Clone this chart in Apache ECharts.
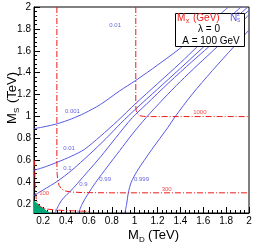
<!DOCTYPE html>
<html><head><meta charset="utf-8">
<script src="https://cdn.jsdelivr.net/npm/echarts@6/dist/echarts.min.js"></script>
<style>html,body{margin:0;padding:0;background:#fff}#c{width:258px;height:247px}</style>
</head><body><div id="c"></div>
<script>
// Axis ranges (TeV)
const xRange = [0.12, 2.0];
const yRange = [0.12, 2.0];
const majorTicks = [0.2, 0.4, 0.6, 0.8, 1.0, 1.2, 1.4, 1.6, 1.8, 2.0];
const minorTicks = [];
for (let i = 4; i <= 50; i++) minorTicks.push(+(i * 0.04).toFixed(2));

// Blue contours of N_S^2 (M_D, M_S in TeV)
const c0001 = [[0.12,0.89],[0.2,0.905],[0.325,0.935],[0.45,0.98],[0.56,1.03],[0.7,1.11],[0.87,1.235],[1.01,1.33],[1.2,1.47],[1.4,1.625],[1.6,1.8],[1.82,2.0]];
const c001 = [[0.12,0.51],[0.2,0.535],[0.325,0.584],[0.45,0.64],[0.56,0.7],[0.7,0.82],[0.85,0.96],[1.01,1.12],[1.2,1.3],[1.4,1.49],[1.545,1.635],[1.75,1.83],[1.93,2.0]];
const c01 = [[0.12,0.28],[0.2,0.33],[0.325,0.41],[0.45,0.51],[0.6,0.65],[0.75,0.8],[0.88,0.94],[1.01,1.07],[1.2,1.25],[1.4,1.44],[1.602,1.635],[1.8,1.825],[1.99,2.0]];
const c09 = [[0.305,0.12],[0.34,0.2],[0.38,0.26],[0.43,0.31],[0.5,0.39],[0.6,0.51],[0.7,0.63],[0.83,0.8],[0.98,0.99],[1.1,1.11],[1.3,1.31],[1.5,1.5],[1.646,1.635],[1.85,1.83],[2.0,1.97]];
const c099 = [[0.51,0.12],[0.54,0.2],[0.59,0.29],[0.66,0.4],[0.76,0.54],[0.87,0.69],[0.98,0.84],[1.1,0.99],[1.25,1.16],[1.4,1.32],[1.55,1.47],[1.72,1.635],[1.86,1.78],[2.0,1.93]];
const c0999 = [[0.915,0.12],[0.93,0.2],[0.944,0.3],[0.97,0.4],[1.02,0.5],[1.084,0.6],[1.15,0.7],[1.22,0.8],[1.29,0.9],[1.355,1.0],[1.5,1.2],[1.68,1.42],[1.865,1.635],[2.0,1.79]];
const blueLabels = [["0.01",0.83,1.83],["0.001",0.456,1.05],["0.01",0.427,0.712],["0.1",0.413,0.529],["0.9",0.553,0.38],["0.99",0.742,0.423],["0.999",1.06,0.423]];

// Red contours of M_X (GeV)
const r100 = [[0.125,0.6],[0.128,0.45],[0.132,0.32],[0.14,0.245],[0.155,0.2],[0.18,0.175],[0.22,0.158],[0.3,0.148],[0.4,0.142],[0.5,0.138],[0.6,0.135]];
const r300 = [[0.32,2.0],[0.32,0.6],[0.322,0.48],[0.328,0.42],[0.34,0.37],[0.36,0.34],[0.39,0.322],[0.44,0.312],[0.55,0.306],[0.8,0.304],[2.0,0.304]];
const r1000 = [[1.01,2.0],[1.01,1.1],[1.013,1.055],[1.025,1.025],[1.045,1.008],[1.08,1.001],[1.15,1.0],[2.0,1.0]];
const redLabels = [["100",0.209,0.295],["300",1.28,0.337],["1000",1.57,1.04]];

// Excluded (green) region
const green = [[0.12,0.12],[0.12,0.235],[0.14,0.215],[0.16,0.2],[0.18,0.178],[0.2,0.165],[0.23,0.14],[0.26,0.125],[0.27,0.12]];

const BLUE = '#5757e6', RED = '#ee1a1a';
const FONT = 'Liberation Sans, Arial, sans-serif';
const fmt = v => String(+(+v).toFixed(1));

function axisPair(dim, range) {
  const pos = dim === 'x' ? 'bottom' : 'left';
  return [{
    type: 'value', min: range[0], max: range[1], position: pos,
    axisLine: { show: true, onZero: false, lineStyle: { color: '#000', width: 1 } },
    axisTick: { show: true, inside: true, length: 6, customValues: majorTicks, lineStyle: { color: '#000' } },
    axisLabel: { show: true, customValues: majorTicks, formatter: fmt, color: '#000', fontSize: 10, fontFamily: FONT, margin: dim === 'x' ? 3 : 3 },
    splitLine: { show: false }
  }, {
    type: 'value', min: range[0], max: range[1], position: pos, offset: 0,
    axisLine: { show: false, onZero: false },
    axisTick: { show: true, inside: true, length: 3, customValues: minorTicks, lineStyle: { color: '#000' } },
    axisLabel: { show: false },
    splitLine: { show: false }
  }];
}

function lineSeries(data, color, dashed) {
  return {
    type: 'line', data: data, showSymbol: false, symbol: 'none', smooth: dashed ? false : 0.3,
    lineStyle: { color: color, width: 1, type: dashed ? [6, 2, 1, 2] : 'solid' },
    silent: true, animation: false, z: 3
  };
}

function labelSeries(list, color) {
  return {
    type: 'scatter', symbolSize: 0.1, itemStyle: { color: 'rgba(0,0,0,0)' },
    data: list.map(d => ({ name: d[0], value: [d[1], d[2]] })),
    label: { show: true, position: 'inside', formatter: '{b}', color: color, fontSize: 6, fontFamily: FONT },
    silent: true, animation: false, z: 4
  };
}

const chart = echarts.init(document.getElementById('c'), null, { renderer: 'canvas' });
chart.setOption({
  animation: false,
  backgroundColor: '#fff',
  grid: { left: 34, top: 7, right: 9, bottom: 34, show: true, borderColor: '#000', borderWidth: 1, backgroundColor: 'transparent' },
  xAxis: axisPair('x', xRange),
  yAxis: axisPair('y', yRange),
  series: [
    {
      type: 'custom', data: [[0.12, 0.12]], silent: true, z: 1, clip: true,
      renderItem: (params, api) => ({
        type: 'polygon',
        shape: { points: green.map(p => api.coord(p)) },
        style: { fill: '#00a878', stroke: null }
      })
    },
    lineSeries(c0001, BLUE), lineSeries(c001, BLUE), lineSeries(c01, BLUE),
    lineSeries(c09, BLUE), lineSeries(c099, BLUE), lineSeries(c0999, BLUE),
    lineSeries(r100, RED, true), lineSeries(r300, RED, true), lineSeries(r1000, RED, true),
    labelSeries(blueLabels, '#3a3ad8'), labelSeries(redLabels, RED)
  ],
  graphic: [
    // x-axis title
    { type: 'text', x: 128, y: 235, z: 50, style: { text: 'M', fontSize: 13, fontFamily: FONT, fill: '#000', verticalAlign: 'middle', align: 'left' } },
    { type: 'text', x: 139, y: 240, z: 50, style: { text: 'D', fontSize: 8, fontFamily: FONT, fill: '#000', verticalAlign: 'middle', align: 'left' } },
    { type: 'text', x: 148, y: 235, z: 50, style: { text: '(TeV)', fontSize: 13, fontFamily: FONT, fill: '#000', verticalAlign: 'middle', align: 'left' } },
    // y-axis title
    { type: 'group', x: 12, y: 124, rotation: Math.PI / 2, z: 50, children: [
      { type: 'text', x: 0, y: 0, style: { text: 'M', fontSize: 13, fontFamily: FONT, fill: '#000', verticalAlign: 'middle', align: 'left' } },
      { type: 'text', x: 11, y: 5, style: { text: 'S', fontSize: 8, fontFamily: FONT, fill: '#000', verticalAlign: 'middle', align: 'left' } },
      { type: 'text', x: 21, y: 0, style: { text: '(TeV)', fontSize: 13, fontFamily: FONT, fill: '#000', verticalAlign: 'middle', align: 'left' } }
    ] },
    // legend box
    { type: 'rect', z: 100, shape: { x: 175.5, y: 13.5, width: 69, height: 33 }, style: { fill: '#fff', stroke: '#000', lineWidth: 1 } },
    { type: 'text', z: 101, x: 177, y: 18, style: { text: 'M', fontSize: 10, fontFamily: FONT, fill: RED, verticalAlign: 'middle', align: 'left' } },
    { type: 'text', z: 101, x: 185.5, y: 21.5, style: { text: 'X', fontSize: 6, fontFamily: FONT, fill: RED, verticalAlign: 'middle', align: 'left' } },
    { type: 'text', z: 101, x: 193, y: 18, style: { text: '(GeV)', fontSize: 10, fontFamily: FONT, fill: RED, verticalAlign: 'middle', align: 'left' } },
    { type: 'text', z: 101, x: 230, y: 18, style: { text: 'N', fontSize: 10, fontFamily: FONT, fill: BLUE, verticalAlign: 'middle', align: 'left' } },
    { type: 'text', z: 101, x: 237, y: 15, style: { text: '2', fontSize: 5, fontFamily: FONT, fill: BLUE, verticalAlign: 'middle', align: 'left' } },
    { type: 'text', z: 101, x: 237, y: 21, style: { text: 'S', fontSize: 5, fontFamily: FONT, fill: BLUE, verticalAlign: 'middle', align: 'left' } },
    { type: 'text', z: 101, x: 209, y: 29.5, style: { text: 'λ = 0', fontSize: 10, fontFamily: FONT, fill: '#000', verticalAlign: 'middle', align: 'center' } },
    { type: 'text', z: 101, x: 211, y: 41, style: { text: 'A = 100 GeV', fontSize: 10, fontFamily: FONT, fill: '#000', verticalAlign: 'middle', align: 'center' } }
  ]
});
</script></body></html>
